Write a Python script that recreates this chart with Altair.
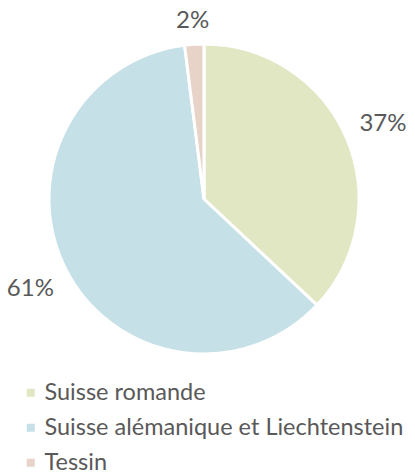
import altair as alt
import pandas as pd

categories = ["Suisse romande", "\u2009Suisse alémanique et Liechtenstein", "Tessin"]
values = [37, 61, 2]
labels = ["37%", "61%", "2%"]
colors = ["#e1e6c3", "#c5e0e6", "#e7d3c7"]

df = pd.DataFrame({
    "cat": categories,
    "value": values,
    "label": labels,
    "order": [0, 1, 2],
})

CX, CY, R = 204, 199, 155

pie = alt.Chart(df).mark_arc(outerRadius=R, stroke="white", strokeWidth=3).encode(
    theta=alt.Theta("value:Q", stack=True),
    order=alt.Order("order:Q"),
    x=alt.value(CX),
    y=alt.value(CY),
    color=alt.Color(
        "cat:N",
        sort=categories,
        scale=alt.Scale(domain=categories, range=colors),
        legend=alt.Legend(
            title=None,
            orient="none",
            legendX=19,
            legendY=381,
            direction="vertical",
            symbolType="square",
            symbolSize=64,
            symbolStrokeWidth=0,
            labelFont="Lato",
            labelFontSize=23.5,
            labelColor="#595959",
            labelOffset=2,
            rowPadding=10,
            labelLimit=500,
        ),
    ),
)

# Excel-style label placement: label box edge at a fixed distance from the pie
text = (
    alt.Chart(df)
    .transform_joinaggregate(total="sum(value)")
    .transform_window(cum="sum(value)", sort=[alt.SortField("order")], frame=[None, 0])
    .transform_calculate(
        mid="(datum.cum - datum.value / 2) / datum.total * 2 * PI",
        r=f"{R + 14} + 24 * abs(sin(datum.mid)) + 10 * abs(cos(datum.mid))",
    )
    .transform_calculate(
        lx=f"{CX} + datum.r * sin(datum.mid)",
        ly=f"{CY} - datum.r * cos(datum.mid) + 2",
    )
    .mark_text(font="Lato", fontSize=24, color="#595959")
    .encode(
        x=alt.X("lx:Q", scale=None, axis=None),
        y=alt.Y("ly:Q", scale=None, axis=None),
        text="label:N",
    )
)

chart = (
    alt.layer(pie, text)
    .resolve_scale(theta="independent")
    .properties(width=415, height=474, autosize=alt.AutoSizeParams(type="none"), padding=0)
    .configure_view(stroke=None)
)

chart.save("out.html", embed_options={"renderer": "svg", "actions": False})
